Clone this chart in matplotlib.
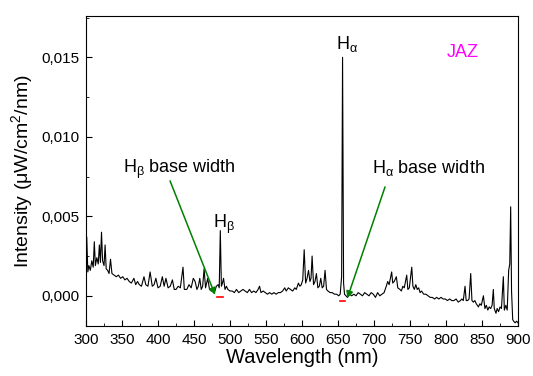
import matplotlib
matplotlib.use("Agg")
import matplotlib.pyplot as plt
from matplotlib.ticker import MultipleLocator, FuncFormatter

plt.rcParams['font.family'] = ['Liberation Sans', 'DejaVu Sans']
plt.rcParams['mathtext.fontset'] = 'custom'
plt.rcParams['mathtext.rm'] = 'Liberation Sans'
plt.rcParams['mathtext.it'] = 'Liberation Sans'

# spectrum (wavelength nm, intensity uW/cm2/nm)
wavelength = [
    300, 301, 302.5, 304, 306, 308, 310, 311.5, 313, 315, 317, 318.5, 320, 321.5, 323, 325,
    326.5, 328, 330, 332, 334, 336, 339, 342, 345, 348, 351, 354, 357, 360, 363, 366.5,
    369, 371.5, 374, 377, 380.5, 383, 386, 389, 392, 394.5, 397, 400, 403, 406, 408.5, 411,
    414, 417, 420, 422.5, 425, 428, 431, 434.7, 436.5, 440, 443, 446, 449,
    451.5, 454, 456, 458, 460, 462, 464, 466, 469, 471.5, 474, 476, 479, 481, 483.5, 485,
    486.5, 488, 489.5, 491, 493, 495, 497, 500, 503, 506, 509, 512, 515, 518, 521, 524,
    527, 530, 533, 536, 539, 541, 543, 546, 549, 552, 555, 558, 561, 564, 567, 570, 573,
    576, 578, 581, 584, 587, 590, 592, 595, 597, 599,
    601, 603, 605, 607, 609, 611, 612.5, 614, 616, 618, 620, 622, 624, 626, 628, 630, 632,
    634, 636, 639, 642, 645, 648, 651, 653, 655, 656.3, 657.7, 659, 661,
    663, 666, 669, 672, 675, 678, 681, 684, 687, 690, 693, 696, 699, 702, 705, 708, 711,
    714, 717, 719, 721, 724.5, 726, 728, 731, 733, 736, 738, 740, 742, 745.4, 747, 749,
    752.4, 754, 756, 758, 760, 762, 764, 766, 769, 772, 775, 778, 781, 784, 787, 790, 793,
    796, 799, 802, 805, 808, 811, 814, 817, 820,
    822, 824, 826.4, 828, 830, 832, 834.3, 836, 838, 840, 842, 845, 847, 849, 851.9, 854,
    856, 858, 860, 862, 864, 865.7, 867, 869.4, 871, 873, 875, 877, 879.6, 881, 883, 885,
    887, 888.5, 889.8, 891, 892.6, 894, 896, 898, 900,
]
intensity = [
    0.0018, 0.0037, 0.0015, 0.0019, 0.0016, 0.0022, 0.0018, 0.0034, 0.0019, 0.0024, 0.0020,
    0.0032, 0.0021, 0.0040, 0.0022, 0.0019, 0.0032, 0.0017, 0.0016, 0.0014, 0.0023, 0.0014,
    0.0013, 0.0012, 0.0013, 0.0011, 0.0012, 0.0010, 0.0011, 0.0009, 0.0008, 0.0011, 0.0007,
    0.0009, 0.0007, 0.0006, 0.0012, 0.0007, 0.0006, 0.0015, 0.0006, 0.0007, 0.0011, 0.0005,
    0.0006, 0.0012, 0.0006, 0.0011, 0.0005, 0.0006, 0.0010, 0.0004, 0.0004, 0.0006, 0.0005,
    0.0018, 0.0004, 0.0004, 0.0007, 0.0005, 0.0011,
    0.0009, 0.0004, 0.0006, 0.0011, 0.0004, 0.0006, 0.0017, 0.0005, 0.0011, 0.0004, 0.0003,
    0.0004, 0.0003, 0.0006, 0.0007, 0.0005, 0.0041, 0.0006, 0.0008, 0.0011, 0.0004, 0.0006,
    0.0004, 0.0003, 0.0003, 0.0002, 0.0004, 0.0002, 0.0003, 0.0004, 0.0003, 0.0002, 0.0004,
    0.0002, 0.0003, 0.0002, 0.0004, 0.0006, 0.0002, 0.0003, 0.0002, 0.0001, 0.0002, 0.0001,
    0.0002, 0.0001, 0.0002, 0.0002, 0.0003, 0.0005, 0.0003, 0.0005, 0.0004, 0.0003, 0.0005,
    0.0004, 0.0008, 0.0006, 0.0007,
    0.0010, 0.0029, 0.0008, 0.0011, 0.0016, 0.0009, 0.0011, 0.0025, 0.0007, 0.0009, 0.0014,
    0.0005, 0.0006, 0.0011, 0.0005, 0.0006, 0.0016, 0.0004, 0.0003, 0.0002, 0.0002, 0.0001,
    0.0001, 0.0000, 0.0001, 0.0012, 0.0150, 0.0008, 0.0001, 0.0000,
    -0.0001, 0.0001, 0.0000, 0.0001, 0.0000, 0.0002, 0.0001, 0.0000, 0.0002, 0.0001, 0.0000,
    0.0002, 0.0001, -0.0001, 0.0002, 0.0000, 0.0001, 0.0002, 0.0006, 0.0009, 0.0007, 0.0015,
    0.0008, 0.0009, 0.0012, 0.0005, 0.0004, 0.0003, 0.0006, 0.0005, 0.0013, 0.0004, 0.0005,
    0.0018, 0.0006, 0.0004, 0.0007, 0.0004, 0.0005, 0.0002, 0.0003, 0.0001, 0.0001, 0.0000,
    -0.0001, -0.0001, -0.0002, -0.0001, -0.0002, -0.0001, -0.0002, -0.0002, -0.0003, -0.0002,
    -0.0003, -0.0003, -0.0002, -0.0004, -0.0003,
    -0.0002, -0.0003, 0.0006, -0.0003, -0.0003, -0.0002, 0.0014, -0.0003, -0.0004, -0.0003,
    -0.0005, -0.0007, -0.0005, -0.0006, 0.0000, -0.0008, -0.0006, -0.0009, -0.0007, -0.0008,
    -0.0006, 0.0004, -0.0008, -0.0011, -0.0008, -0.0010, -0.0007, -0.0008, 0.0012, -0.0009,
    -0.0006, -0.0009, 0.0016, 0.0020, 0.0056, 0.0003, -0.0015, -0.0016, -0.0017, -0.0016,
    -0.0017,
]

# base width markers (red) and arrow ends
hb_base = [481.5, 489.8]
ha_base = [652.8, 659.7]
hb_base_y = -0.00005
ha_base_y = -0.00033
hb_arrow = [(479.2, 0.00006), (416.7, 0.00723)]
ha_arrow = [(662.9, -0.00015), (715.3, 0.00685)]


def comma_fmt(v, pos):
    return f"{v:.3f}".replace(".", ",")


fig = plt.figure(figsize=(5.33, 3.76), dpi=100)
ax = fig.add_axes([0.1614, 0.133, 0.8105, 0.8244])

ax.plot(wavelength, intensity, color='black', lw=0.8)
ax.plot(hb_base, [hb_base_y] * 2, color='red', lw=1.2)
ax.plot(ha_base, [ha_base_y] * 2, color='red', lw=1.2)

for tip, tail in (hb_arrow, ha_arrow):
    ax.annotate('', xy=tip, xytext=tail,
                arrowprops=dict(arrowstyle='-|>', color='green', lw=1.1,
                                mutation_scale=10, shrinkA=0, shrinkB=0))

ax.text(351.4, 0.0077, r'H$_{\mathregular{β}}$ base width', fontsize=13, va='baseline')
ax.text(696.8, 0.0077, r'H$_{\mathregular{α}}$ base width', fontsize=13, va='baseline')
ax.text(647.2, 0.01553, r'H$_{\mathregular{α}}$', fontsize=13, va='baseline')
ax.text(476.4, 0.00424, r'H$_{\mathregular{β}}$', fontsize=13, va='baseline')
ax.text(801, 0.01505, 'JAZ', fontsize=13, color='#ff00ff', va='baseline')

ax.set_xlim(300, 900)
ax.set_ylim(-0.0019, 0.0176)
ax.xaxis.set_major_locator(MultipleLocator(50))
ax.xaxis.set_minor_locator(MultipleLocator(25))
ax.yaxis.set_major_locator(MultipleLocator(0.005))
ax.yaxis.set_minor_locator(MultipleLocator(0.0025))
ax.yaxis.set_major_formatter(FuncFormatter(comma_fmt))
ax.tick_params(which='both', direction='in', labelsize=11, pad=5)
ax.tick_params(which='major', length=4.5)
ax.tick_params(which='minor', length=2.5)

ax.set_xlabel('Wavelength (nm)', fontsize=14.5, labelpad=1)
ax.set_ylabel(r'Intensity (μW/cm$^{\mathregular{2}}$/nm)', fontsize=14, labelpad=4)

fig.savefig('out.png', dpi=100)
